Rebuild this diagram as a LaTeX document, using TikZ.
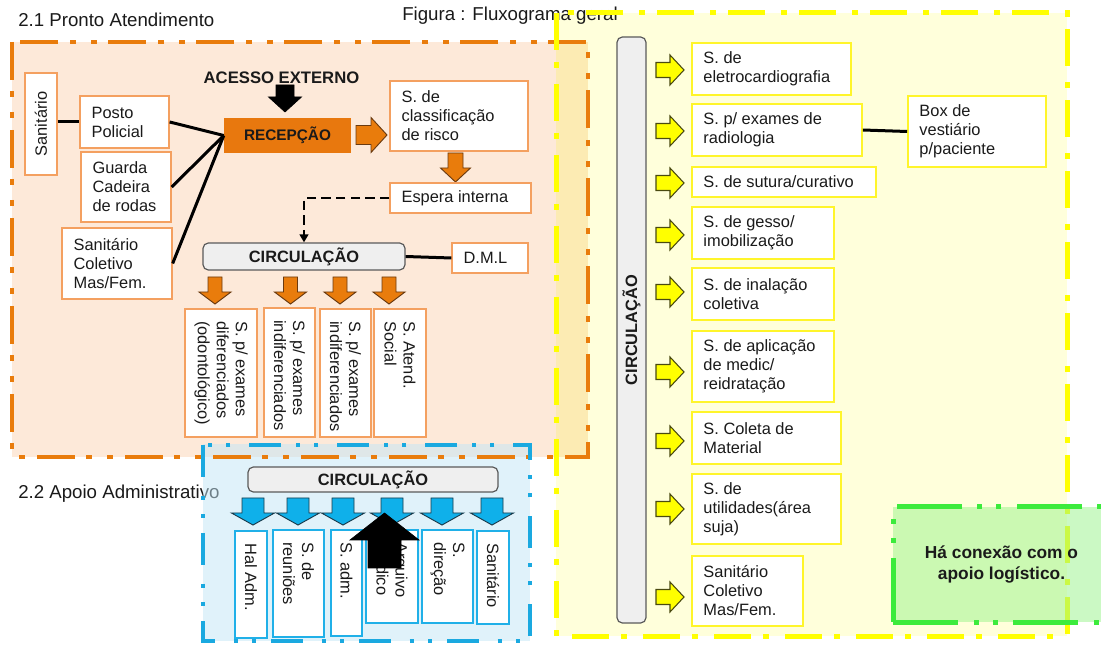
\documentclass[tikz,border=0pt]{standalone}
\usepackage{fontspec}
\setmainfont{Liberation Sans}
\usetikzlibrary{arrows.meta}
\definecolor{txtc}{HTML}{1A1A1A}
\definecolor{orng}{HTML}{E97C0C}
\definecolor{recepc}{HTML}{E8780E}
\definecolor{oboxc}{HTML}{F4A060}
\definecolor{ofill}{HTML}{FDE9D9}
\definecolor{yfill}{HTML}{FFFF99}
\definecolor{yline}{HTML}{FFFF00}
\definecolor{yboxc}{HTML}{FFF52A}
\definecolor{bfill}{HTML}{C3E7F7}
\definecolor{bline}{HTML}{1AA9E0}
\definecolor{bboxc}{HTML}{20B0E8}
\definecolor{barrc}{HTML}{0FB0EA}
\definecolor{gfill}{HTML}{99F58A}
\definecolor{gline}{HTML}{3CEB3C}
\definecolor{circfill}{HTML}{EFEFEF}
\definecolor{circline}{HTML}{5A5A5A}
\definecolor{oarrline}{HTML}{6A3A10}
\definecolor{yarrline}{HTML}{4A4A10}
\definecolor{barrline}{HTML}{1A3A4A}

\newcommand\dnA[7]{\draw[#7] ({#1-#5},#2) -- ({#1+#5},#2) -- ({#1+#5},{#3-#6}) -- ({#1+#4},{#3-#6}) -- (#1,#3) -- ({#1-#4},{#3-#6}) -- ({#1-#5},{#3-#6}) -- cycle;}
\newcommand\upA[7]{\draw[#7] ({#1-#5},#3) -- ({#1+#5},#3) -- ({#1+#5},{#2+#6}) -- ({#1+#4},{#2+#6}) -- (#1,#2) -- ({#1-#4},{#2+#6}) -- ({#1-#5},{#2+#6}) -- cycle;}
\newcommand\rtA[7]{\draw[#7] (#1,{#3-#5}) -- ({#2-#6},{#3-#5}) -- ({#2-#6},{#3-#4}) -- (#2,#3) -- ({#2-#6},{#3+#4}) -- ({#2-#6},{#3+#5}) -- (#1,{#3+#5}) -- cycle;}
\newcommand\mybox[7]{%
 \pgfmathsetmacro\bw{(#4-#2)*0.75}%
 \pgfmathsetmacro\bh{(#5-#3)*0.75}%
 \node[#6, minimum width=\bw pt, minimum height=\bh pt] (#1) at ({(#2+#4)/2},{(#3+#5)/2}) {};
 \node[txt, anchor=west, align=left] (#1-t) at ([xshift=9pt]#1.west) {#7};}
\newcommand\myvbox[7]{%
 \pgfmathsetmacro\bw{(#4-#2)*0.75}%
 \pgfmathsetmacro\bh{(#5-#3)*0.75}%
 \node[#6, minimum width=\bw pt, minimum height=\bh pt] (#1) at ({(#2+#4)/2},{(#3+#5)/2}) {};
 \node[txt, rotate=-90, anchor=west, align=left] (#1-t) at ([yshift=-9.5pt]#1.north) {#7};}

\begin{document}
\begin{tikzpicture}[x=0.75pt,y=-0.75pt,
  txt/.style={inner sep=0pt, font=\fontsize{12.3}{14.25}\selectfont, text=txtc},
  ttl/.style={inner sep=0pt, font=\fontsize{14}{16}\selectfont, text=txtc},
  obox/.style={draw=oboxc, line width=1pt, fill=white, inner sep=0pt},
  ybox/.style={draw=yboxc, line width=1.2pt, fill=white, inner sep=0pt},
  bbox/.style={draw=bboxc, line width=1pt, fill=white, inner sep=0pt},
  circ/.style={draw=circline, fill=circfill, rounded corners=4pt, line width=0.9pt, inner sep=0pt, font=\fontsize{12.3}{14}\selectfont\bfseries, text=txtc},
  conn/.style={line width=2.25pt, black},
  oarr/.style={fill=orng, draw=oarrline, line width=0.7pt},
  yarr/.style={fill=yline, draw=yarrline, line width=0.8pt},
  barr/.style={fill=barrc, draw=barrline, line width=0.7pt},
  karr/.style={fill=black, draw=black, line width=0.5pt},
  oreg/.style={draw=orng, line width=3.5pt, dash pattern=on 28.5pt off 8.25pt on 4.5pt off 11.25pt on 4.5pt off 9pt},
  yreg/.style={draw=yline, line width=3.75pt, dash pattern=on 27.75pt off 9pt on 4.5pt off 12pt},
  breg/.style={draw=bline, line width=3.25pt, dash pattern=on 24pt off 14pt on 3pt off 11pt on 3pt off 11pt},
  greg/.style={draw=gline, line width=3.75pt, dash pattern=on 49pt off 12pt on 3.75pt off 10.5pt on 3.75pt off 11pt}
]
\useasboundingbox (0,0) rectangle (1101,645);
\clip (0,0) rectangle (1101,645);
\fill[white] (0,0) rectangle (1101,645);

% titles
\node[ttl, anchor=west] (t21) at (18,20) {2.1 Pronto Atendimento};
\node[ttl, anchor=west] (t22) at (18,494) {2.2 Apoio Administrativo};

% region fills
\fill[ofill] (12,42) rectangle (588,457);
\fill[yfill, fill opacity=0.35] (556,13) rectangle (1067,636);
\fill[yfill!70!orng, fill opacity=0.18] (556,42) rectangle (588,457);
\fill[bfill, fill opacity=0.5] (203,444) rectangle (530,641);

\node[ttl, anchor=west] (fig) at (402,16) {Figura : Fluxograma geral};

% region borders
\draw[oreg] (12,42) rectangle (588,457);
\draw[yreg] (556,13) rectangle (1067,636);
\draw[breg] (203,445) rectangle (530,641);

% ---------- 2.1 Pronto Atendimento ----------
\node[obox, minimum width=24pt, minimum height=76.5pt] (san) at (41,124) {};
\node[txt, rotate=90] (san-t) at (san) {Sanitário};
\mybox{posto}{80}{96}{169}{148}{obox}{Posto\\Policial}
\mybox{guarda}{81}{152}{171}{222}{obox}{Guarda\\Cadeira\\de rodas}
\mybox{sancol}{62}{228}{172}{299}{obox}{Sanitário\\Coletivo\\Mas/Fem.}

\node[fill=recepc, inner sep=0pt, minimum width=95.25pt, minimum height=26.25pt, font=\fontsize{11.5}{13}\selectfont\bfseries, text=txtc] (recep) at (287.5,135.5) {RECEPÇÃO};

\draw[conn] (san.east |- posto.west) -- (posto.west);
\draw[conn] (posto.east) -- (recep.west);
\draw[conn] (guarda.east) -- (recep.west);
\draw[conn] (sancol.east) -- (recep.west);

\node[txt, font=\fontsize{12.5}{14}\selectfont\bfseries] (acesso) at (281.5,78) {ACESSO EXTERNO};
\dnA{285}{85}{112}{16.5}{9}{15}{karr}

\rtA{356}{387}{135}{17.5}{9.5}{16}{oarr}
\mybox{clas}{390}{81}{528}{151}{obox}{S. de\\classificação\\de risco}
\dnA{455.5}{153}{182}{15}{7.5}{14}{oarr}
\mybox{esp}{390}{183}{531}{213}{obox}{Espera interna}

\node[circ, minimum width=151.5pt, minimum height=20.25pt] (circ1) at (304,256.5) {CIRCULAÇÃO};
\mybox{dml}{452}{243}{528}{273}{obox}{D.M.L}
\draw[conn] (circ1.east) -- (dml.west);
\draw[line width=2.2pt, dash pattern=on 7pt off 4pt, -{Triangle[length=6pt,width=6.5pt]}] (esp.west) -| (circ1.north);

\dnA{215}{277}{304}{16}{7}{12}{oarr}
\dnA{290.5}{277}{304}{16}{7}{12}{oarr}
\dnA{340}{277}{304}{16}{7}{12}{oarr}
\dnA{389}{277}{304}{16}{7}{12}{oarr}

\myvbox{v1}{185}{309}{257}{437}{obox}{S. p/ exames\\diferenciados\\(odontológico)}
\myvbox{v2}{264}{308}{315}{437}{obox}{S. p/ exames\\indiferenciados}
\myvbox{v3}{320}{309}{371}{437}{obox}{S. p/ exames\\indiferenciados}
\myvbox{v4}{374}{309}{426}{437}{obox}{S. Atend.\\Social}

% ---------- 2.2 Apoio Administrativo ----------
\node[circ, minimum width=187.5pt, minimum height=18.75pt] (circ2) at (373,479.5) {CIRCULAÇÃO};
\dnA{253}{498}{525}{21.5}{11}{12}{barr}
\dnA{298}{498}{525}{21.5}{11}{12}{barr}
\dnA{343}{498}{525}{21.5}{11}{12}{barr}
\dnA{392}{498}{525}{21.5}{11}{12}{barr}
\dnA{442}{498}{525}{21.5}{11}{12}{barr}
\dnA{492}{498}{525}{21.5}{11}{12}{barr}

\myvbox{b1}{235}{531}{267}{638}{bbox}{Hal Adm.}
\myvbox{b2}{273}{530}{324}{637}{bbox}{S. de\\reuniões}
\myvbox{b3}{331}{530}{362}{636}{bbox}{S. adm.}
\myvbox{b4}{366}{530}{418}{623}{bbox}{Arquivo\\médico}
\myvbox{b5}{422}{530}{473}{623}{bbox}{S.\\direção}
\myvbox{b6}{477}{531}{509}{624}{bbox}{Sanitário}

\upA{384.5}{513}{568}{34.5}{16.5}{27}{karr}

% ---------- right block ----------
\node[circ, rotate=90, minimum width=439.5pt, minimum height=21.75pt] (circ3) at (631.5,330) {CIRCULAÇÃO};

\rtA{656}{684}{70}{15}{7.5}{14}{yarr}
\rtA{656}{684}{131}{15}{7.5}{14}{yarr}
\rtA{656}{684}{183}{15}{7.5}{14}{yarr}
\rtA{656}{684}{235}{15}{7.5}{14}{yarr}
\rtA{656}{684}{292}{15}{7.5}{14}{yarr}
\rtA{656}{684}{372}{15}{7.5}{14}{yarr}
\rtA{656}{684}{441}{15}{7.5}{14}{yarr}
\rtA{656}{684}{509}{15}{7.5}{14}{yarr}
\rtA{656}{684}{597}{15}{7.5}{14}{yarr}

\mybox{y1}{692}{43}{851}{95}{ybox}{S. de\\eletrocardiografia}
\mybox{y2}{692}{104}{862}{156}{ybox}{S. p/ exames de\\radiologia}
\mybox{y3}{692}{167}{876}{197}{ybox}{S. de sutura/curativo}
\mybox{y4}{692}{207}{834}{259}{ybox}{S. de gesso/\\imobilização}
\mybox{y5}{692}{268}{834}{320}{ybox}{S. de inalação\\coletiva}
\mybox{y6}{692}{331}{834}{402}{ybox}{S. de aplicação\\de medic/\\reidratação}
\mybox{y7}{692}{412}{841}{464}{ybox}{S. Coleta de\\Material}
\mybox{y8}{692}{474}{841}{544}{ybox}{S. de\\utilidades(área\\suja)}
\mybox{y9}{692}{556}{803}{626}{ybox}{Sanitário\\Coletivo\\Mas/Fem.}
\mybox{ybx}{908}{96}{1046}{167}{ybox}{Box de\\vestiário\\p/paciente}
\draw[conn] (y2.east) -- (ybx.west);

\node[greg, fill=gfill, fill opacity=0.5, text opacity=1, inner sep=0pt, minimum width=162.75pt, minimum height=86.25pt, align=center, font=\fontsize{13}{15.5}\selectfont\bfseries, text=txtc] (green) at (1001.5,564.5) {Há conexão com o\\apoio logístico.};
\end{tikzpicture}
\end{document}
